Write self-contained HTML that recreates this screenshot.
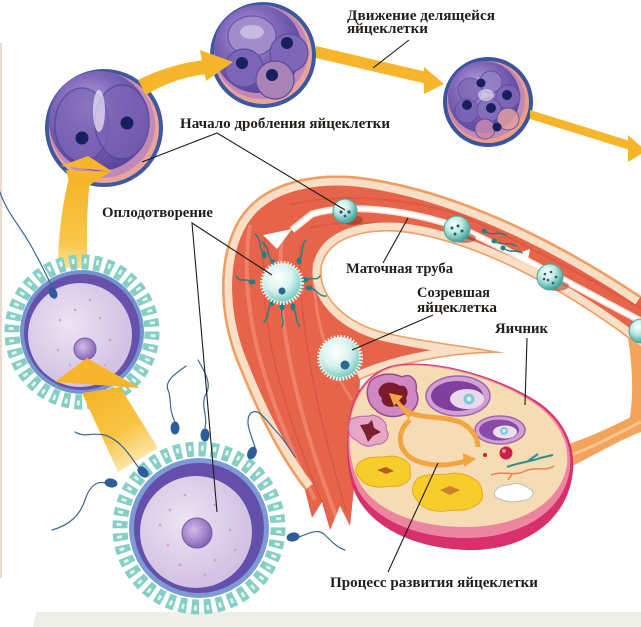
<!DOCTYPE html>
<html><head><meta charset="utf-8">
<style>
html,body{margin:0;padding:0;background:#fff;overflow:hidden}
svg{display:block}
.t{font-family:"Liberation Serif","DejaVu Serif",serif;font-weight:bold;font-size:14.5px;fill:#221e1b}
.l{stroke:#1e1b19;stroke-width:1.1;fill:none}
.tl{stroke:#3a6694;stroke-width:1.2;fill:none;stroke-linecap:round}
.tt{stroke:#1f7f86;stroke-width:1.4;fill:none;stroke-linecap:round}
</style></head><body>
<svg width="641" height="627" viewBox="0 0 641 627" xmlns="http://www.w3.org/2000/svg">
<defs>
<radialGradient id="gP" cx=".4" cy=".35" r=".65">
<stop offset="0" stop-color="#b8a6dc"/><stop offset=".5" stop-color="#7f66b8"/><stop offset="1" stop-color="#5a479c"/></radialGradient>
<radialGradient id="gT" cx=".38" cy=".32" r=".7">
<stop offset="0" stop-color="#ffffff"/><stop offset=".45" stop-color="#bfeae2"/><stop offset="1" stop-color="#3a9e96"/></radialGradient>
<radialGradient id="gT2" cx=".4" cy=".35" r=".7">
<stop offset="0" stop-color="#ffffff"/><stop offset=".5" stop-color="#d9f3ee"/><stop offset="1" stop-color="#62c2b6"/></radialGradient>
<radialGradient id="gE" cx=".4" cy=".4" r=".6">
<stop offset="0" stop-color="#ece3f3"/><stop offset="1" stop-color="#d2c1e3"/></radialGradient>
<radialGradient id="gN" cx=".4" cy=".4" r=".6"><stop offset="0" stop-color="#d2bde6"/><stop offset="1" stop-color="#8a66b8"/></radialGradient>
<linearGradient id="gY1" gradientUnits="userSpaceOnUse" x1="0" y1="170" x2="0" y2="270"><stop offset="0" stop-color="#f5b224"/><stop offset=".7" stop-color="#f8c548"/><stop offset="1" stop-color="#fbe39a"/></linearGradient>
<linearGradient id="gY2" gradientUnits="userSpaceOnUse" x1="95" y1="380" x2="145" y2="470"><stop offset="0" stop-color="#f5b224"/><stop offset=".55" stop-color="#f8c444"/><stop offset="1" stop-color="#fdf1c8"/></linearGradient>
<clipPath id="tc"><path d="M641,296 C580,255 480,198 380,180 C320,168 262,180 238,220 C215,260 218,320 240,370 C258,415 280,458 305,490 L312,518 L322,502 L330,530 L340,506 L350,526 L356,470 L360,380 C400,362 460,352 505,353 C470,346 420,341 380,331 C340,319 318,292 322,266 C328,240 360,229 400,232 C470,240 560,285 641,348 Z"/></clipPath>
</defs>

<rect x="0" y="43" width="2" height="535" fill="#eadbd0"/>
<path d="M36,612 L641,612 L641,627 L33,627 Z" fill="#efefe9"/>

<path d="M628,338 C633,370 634,400 628,428 L641,428 L641,340 Z" fill="#f2a45c"/>
<path d="M556,448 C590,438 615,425 641,412 L641,432 C615,442 590,458 560,472 Z" fill="#f2a45c"/>
<path d="M565,457 C595,447 618,433 641,422" stroke="#f8c48c" stroke-width="3" fill="none"/>

<path d="M641,296 C580,255 480,198 380,180 C320,168 262,180 238,220 C215,260 218,320 240,370 C258,415 280,458 305,490 L312,518 L322,502 L330,530 L340,506 L350,526 L356,470 L360,380 C400,362 460,352 505,353 C470,346 420,341 380,331 C340,319 318,292 322,266 C328,240 360,229 400,232 C470,240 560,285 641,348 Z" fill="#e5644a"/>
<g clip-path="url(#tc)">
 <path d="M641,308 C600,285 520,240 460,215 C410,198 340,192 290,205" stroke="#d24e38" stroke-width="2" fill="none" opacity=".5"/>
 <path d="M641,334 C600,314 520,268 460,242 C410,224 350,217 310,228" stroke="#d24e38" stroke-width="2" fill="none" opacity=".5"/>
 <path d="M250,225 C238,300 258,380 315,500" stroke="#f3957c" stroke-width="4" fill="none" opacity=".6"/>
 <path d="M266,232 C256,300 272,385 326,512" stroke="#cf4a35" stroke-width="1.5" fill="none" opacity=".5"/>
 <path d="M282,238 C275,300 288,390 336,516" stroke="#f3957c" stroke-width="4" fill="none" opacity=".6"/>
 <path d="M300,245 C298,300 308,385 346,510" stroke="#cf4a35" stroke-width="1.5" fill="none" opacity=".5"/>
 <path d="M314,262 C312,310 325,360 352,400" stroke="#f3957c" stroke-width="3" fill="none" opacity=".6"/>
 <path d="M641,296 C580,255 480,198 380,180 C320,168 262,180 238,220 C215,260 218,320 240,370 C258,415 280,458 305,490" stroke="#f9dfc5" stroke-width="20" fill="none"/>
 <path d="M641,296 C580,255 480,198 380,180 C320,168 262,180 238,220 C215,260 218,320 240,370 C258,415 280,458 305,490" stroke="#ee9e62" stroke-width="5" fill="none"/>
 <path d="M360,380 C400,362 460,352 505,353 C470,346 420,341 380,331 C340,319 318,292 322,266 C328,240 360,229 400,232 C470,240 560,285 641,348" stroke="#f9dfc5" stroke-width="18" fill="none"/>
 <path d="M360,380 C400,362 460,352 505,353 C470,346 420,341 380,331 C340,319 318,292 322,266 C328,240 360,229 400,232 C470,240 560,285 641,348" stroke="#ee9e62" stroke-width="3" fill="none"/>
 <path d="M641,321 C600,300 520,255 460,228 C410,210 350,203 312,214 L292,230" stroke="#fbe4d6" stroke-width="7" fill="none"/>
 <path d="M641,321 C600,300 520,255 460,228 C410,210 350,203 312,214 L292,230" stroke="#ffffff" stroke-width="4" fill="none"/>
 <polygon points="263,235 292,229 277,249" fill="#ffffff"/>
 <polygon points="519,253 530,249 528,260" fill="#ffffff"/>
</g>

<path d="M348,428 C350,392 372,366 402,364 C445,360 505,380 538,402 C562,418 578,445 572,478 C565,520 525,552 465,550 C415,548 372,528 356,495 C347,476 346,450 348,428 Z" fill="#d8306b"/>
<path d="M349,428 C351,393 373,367 402,365 C445,361 504,381 536,403 C560,419 575,445 569,474 C562,510 524,538 465,538 C417,538 376,520 359,492 C349,474 347,450 349,428 Z" fill="#ec86a0"/>
<path d="M350,428 C352,394 374,368 402,366 C445,362 503,382 535,404 C558,420 572,445 566,470 C558,502 522,527 465,527 C418,527 380,512 363,488 C352,472 348,450 350,428 Z" fill="#f6dcb4"/>
<path d="M370,382 C378,372 394,373 402,377 C411,372 418,381 416,391 C421,401 415,413 404,414 C394,419 381,416 376,410 C367,404 365,391 370,382 Z" fill="#cf88c2" stroke="#9a4a90" stroke-width="1.5"/>
<path d="M381,386 C387,380 396,383 400,386 C406,384 410,392 406,398 C409,405 401,408 395,406 C388,409 380,404 382,398 C377,394 378,389 381,386 Z" fill="#7a1a2a"/>
<path d="M410,417 L396,400" stroke="#f3a540" stroke-width="4" fill="none"/>
<polygon points="389,393 403,396 394,406" fill="#f3a540"/>
<ellipse cx="458" cy="396" rx="32" ry="20" fill="#d3a0d4" stroke="#a065b0" stroke-width="1.5"/>
<ellipse cx="457" cy="396" rx="26" ry="15" fill="#7e3f9f"/>
<ellipse cx="467" cy="399" rx="17" ry="10" fill="#e9d8ee"/>
<circle cx="469" cy="399" r="5.5" fill="#7fcbdc"/><circle cx="469" cy="399" r="2" fill="#ffffff"/>
<ellipse cx="500" cy="430" rx="25" ry="14" fill="#d3a0d4" stroke="#a065b0" stroke-width="1.5"/>
<ellipse cx="499" cy="430" rx="20" ry="10.5" fill="#8a4aa8"/>
<ellipse cx="505" cy="432" rx="12" ry="6.5" fill="#ecdff0"/>
<circle cx="504" cy="431" r="4" fill="#7fcbdc"/><circle cx="504" cy="431" r="1.5" fill="#fff"/>
<path d="M350,420 C358,414 368,418 372,415 C380,416 388,422 386,430 C392,436 384,446 376,444 C368,449 360,444 356,440 C347,436 348,428 350,420 Z" fill="#e8a6c6" stroke="#c070a8" stroke-width="1.2"/>
<path d="M360,425 L368,424 L372,420 L374,428 L381,432 L373,436 L368,442 L365,434 Z" fill="#7a2030"/>
<path d="M360,462 C368,455 385,458 392,456 C402,457 412,462 410,471 C414,480 402,488 390,486 C378,489 364,486 360,478 C354,473 355,466 360,462 Z" fill="#f7cd2c" stroke="#e8a820" stroke-width="1"/>
<path d="M377,470 L386,467 L394,471 L386,474 Z" fill="#b85a22"/>
<path d="M418,478 C428,472 445,476 455,473 C468,474 482,480 482,492 C486,503 470,512 452,510 C436,514 420,508 417,500 C410,493 412,484 418,478 Z" fill="#f7cd2c" stroke="#e8a820" stroke-width="1"/>
<path d="M440,490 L450,486 L460,490 L450,495 Z" fill="#c0702a" opacity=".8"/>
<path d="M410,420 C395,432 397,455 420,462 C435,467 452,465 466,461" stroke="#f3a540" stroke-width="5" fill="none"/>
<polygon points="463,453 476,459 464,467" fill="#f3a540"/>
<path d="M405,410 C420,420 440,415 460,422 C472,428 478,438 478,447" stroke="#f3a540" stroke-width="5" fill="none"/>
<circle cx="506" cy="453" r="6.5" fill="#c8204a"/><circle cx="504" cy="451" r="2" fill="#f08aa0"/>
<circle cx="485" cy="455" r="2" fill="#c8204a"/>
<path d="M507,467 C520,462 530,462 540,458 L553,455 M528,461 L538,454" stroke="#2a9090" stroke-width="2" fill="none"/>
<path d="M491,475 C503,470 514,477 525,471 C535,466 545,472 554,466 M512,474 L508,480" stroke="#ee8050" stroke-width="1.5" fill="none"/>
<path d="M496,490 C500,484 508,486 512,484 C518,482 526,486 530,489 C536,492 532,500 524,500 C516,503 506,502 500,499 C494,497 493,493 496,490 Z" fill="#ffffff" stroke="#bdbdbd" stroke-width="1"/>

<ellipse cx="352" cy="220" rx="11" ry="5" fill="#8a2a20" opacity=".5"/>
<circle cx="345" cy="211" r="12" fill="url(#gT)" stroke="#4aa8a0" stroke-width="1"/>
<circle cx="341" cy="212" r="1.6" fill="#1f5f70"/><circle cx="349" cy="212" r="1.6" fill="#1f5f70"/><circle cx="345" cy="216" r="1.4" fill="#1f5f70"/>
<ellipse cx="464" cy="238" rx="12" ry="5" fill="#8a2a20" opacity=".5"/>
<circle cx="457" cy="229" r="13" fill="url(#gT)" stroke="#4aa8a0" stroke-width="1"/>
<circle cx="452" cy="228" r="1.5" fill="#1f5f70"/><circle cx="458" cy="226" r="1.5" fill="#1f5f70"/><circle cx="462" cy="231" r="1.5" fill="#1f5f70"/><circle cx="455" cy="234" r="1.5" fill="#1f5f70"/>
<ellipse cx="557" cy="286" rx="12" ry="5" fill="#8a2a20" opacity=".5"/>
<circle cx="550" cy="277" r="13" fill="url(#gT)" stroke="#4aa8a0" stroke-width="1"/>
<circle cx="545" cy="274" r="1.3" fill="#1f5f70"/><circle cx="551" cy="272" r="1.3" fill="#1f5f70"/><circle cx="556" cy="277" r="1.3" fill="#1f5f70"/><circle cx="548" cy="280" r="1.3" fill="#1f5f70"/><circle cx="553" cy="283" r="1.3" fill="#1f5f70"/><circle cx="544" cy="279" r="1.3" fill="#1f5f70"/>
<circle cx="641" cy="331" r="12" fill="url(#gT)" stroke="#4aa8a0" stroke-width="1"/>
<circle cx="484" cy="231" r="2.5" fill="#1f7f86"/><path class="tt" d="M486,232 C492,236 498,231 506,235"/>
<circle cx="494" cy="241" r="2.5" fill="#1f7f86"/><path class="tt" d="M496,242 C502,246 508,241 516,246"/>
<circle cx="503" cy="248" r="2.5" fill="#1f7f86"/><path class="tt" d="M505,249 C510,253 516,249 522,253"/>

<g>
<path class="tt" d="M263,253 C258,246 262,240 255,234"/><ellipse cx="264" cy="255" rx="2.5" ry="3.5" fill="#1f7f86"/>
<path class="tt" d="M272,261 C266,254 270,248 262,242"/><ellipse cx="273" cy="263" rx="2.5" ry="3.5" fill="#1f7f86"/>
<path class="tt" d="M300,259 C304,252 300,246 306,240"/><ellipse cx="299" cy="261" rx="2.5" ry="3.5" fill="#1f7f86"/>
<path class="tt" d="M250,281 C244,278 240,283 236,276"/><ellipse cx="252" cy="282" rx="3.5" ry="2.5" fill="#1f7f86"/>
<path class="tt" d="M306,280 C312,276 316,282 320,276"/><ellipse cx="305" cy="280" rx="3.5" ry="2.5" fill="#1f7f86"/>
<path class="tt" d="M311,288 C318,291 320,297 326,296"/><ellipse cx="309" cy="288" rx="3.5" ry="2.5" fill="#1f7f86"/>
<path class="tt" d="M271,304 C266,310 270,316 264,322"/><ellipse cx="272" cy="302" rx="2.5" ry="3.5" fill="#1f7f86"/>
<path class="tt" d="M282,309 C280,316 285,320 282,327"/><ellipse cx="282" cy="307" rx="2.5" ry="3.5" fill="#1f7f86"/>
<path class="tt" d="M294,309 C298,316 294,320 300,326"/><ellipse cx="293" cy="307" rx="2.5" ry="3.5" fill="#1f7f86"/>
<circle cx="282" cy="283" r="20" fill="url(#gT2)" stroke="#e4f6f2" stroke-width="4" stroke-dasharray="1.6 1.6"/>
<circle cx="282" cy="291" r="3.5" fill="#2a6a90"/>
</g>
<circle cx="340" cy="358" r="21" fill="url(#gT2)" stroke="#e4f6f2" stroke-width="4" stroke-dasharray="1.6 1.6"/>
<circle cx="345" cy="365" r="4.5" fill="#2a6a90"/>

<!-- cell A -->
<circle cx="104" cy="128" r="59" fill="#3e58a4"/>
<circle cx="104" cy="128" r="55" fill="#eaa59a"/>
<circle cx="102" cy="125" r="53" fill="#c08ab8"/>
<circle cx="99" cy="121" r="50" fill="url(#gP)"/>
<ellipse cx="82" cy="125" rx="27" ry="37" fill="#7c64b6" stroke="#55449a" stroke-width="1.5" opacity=".75"/>
<ellipse cx="122" cy="122" rx="27" ry="37" fill="#7a62b4" stroke="#55449a" stroke-width="1.5" opacity=".75"/>
<ellipse cx="99" cy="111" rx="6" ry="21" fill="#efe8f8" opacity=".7"/>
<circle cx="82" cy="138" r="6.5" fill="#17205c"/>
<circle cx="127" cy="123" r="6.5" fill="#17205c"/>

<!-- cell B -->
<circle cx="263" cy="55" r="53" fill="#3d58a3"/>
<circle cx="263" cy="55" r="49" fill="#e9a39c"/>
<circle cx="261" cy="52" r="47" fill="#bf88b8"/>
<circle cx="258" cy="49" r="44" fill="url(#gP)"/>
<ellipse cx="252" cy="36" rx="24" ry="20" fill="#a28ccc" stroke="#6a55a8" stroke-width="1.2"/>
<circle cx="244" cy="68" r="19" fill="#7c64b6" stroke="#5f4c9e" stroke-width="1.2"/>
<circle cx="289" cy="53" r="19" fill="#7f67b8" stroke="#5f4c9e" stroke-width="1.2"/>
<circle cx="275" cy="80" r="19" fill="#a982b6" stroke="#5f4c9e" stroke-width="1.2"/>
<ellipse cx="252" cy="32" rx="12" ry="7" fill="#fff" opacity=".4"/>
<circle cx="287" cy="43" r="6" fill="#17205c"/>
<circle cx="242" cy="63" r="6" fill="#17205c"/>
<circle cx="272" cy="75" r="6" fill="#17205c"/>

<!-- cell C -->
<circle cx="488" cy="102" r="45" fill="#3a54a0"/>
<circle cx="488" cy="102" r="41" fill="#eb9d88"/>
<circle cx="486" cy="100" r="39" fill="#c08ab8"/>
<circle cx="484" cy="97" r="36" fill="url(#gP)"/>
<g stroke="#5f4c9e" stroke-width="1" opacity=".85">
<circle cx="470" cy="90" r="12" fill="#8068b8"/><circle cx="491" cy="82" r="11" fill="#9280c4"/><circle cx="508" cy="97" r="12" fill="#7f66b8"/>
<circle cx="467" cy="111" r="12" fill="#7c64b6"/><circle cx="489" cy="110" r="12" fill="#8670bc"/><circle cx="508" cy="119" r="11" fill="#e0a0a0"/><circle cx="485" cy="129" r="10" fill="#c88ab0"/>
</g>
<ellipse cx="486" cy="95" rx="8" ry="6" fill="#fff" opacity=".5"/>
<circle cx="481" cy="83" r="4.5" fill="#17205c"/><circle cx="507" cy="95" r="5" fill="#17205c"/><circle cx="467" cy="105" r="5" fill="#17205c"/><circle cx="491" cy="108" r="5" fill="#17205c"/><circle cx="497" cy="127" r="4.5" fill="#17205c"/>

<!-- top arrows -->
<path d="M138,80 Q170,64 204,60 L207,74 Q173,78 146,95 Z" fill="#f6b52a"/>
<polygon points="200,50 233,62 206,81" fill="#f6b52a"/>
<polygon points="316,46 427,72 427,84 316,58" fill="#f6b52a"/>
<polygon points="424,67 444,84 424,94" fill="#f6b52a"/>
<polygon points="530,110 630,141 630,150 530,119" fill="#f6b52a"/>
<polygon points="628,135 646,151 628,162" fill="#f6b52a"/>

<!-- vertical arrow -->
<path d="M58,268 C58,240 62,205 69,178 L90,180 C87,205 86,240 88,268 Z" fill="url(#gY1)"/>
<polygon points="61,166 88,156 113,172" fill="#f6b52a"/>
<polygon points="66,170 110,172 90,185 70,185" fill="#f6b52a"/>

<!-- middle egg -->
<circle cx="82" cy="332" r="70" fill="none" stroke="#86cfc4" stroke-width="15" pathLength="414" stroke-dasharray="7 4.5"/>
<circle cx="82" cy="332" r="71" fill="none" stroke="#e6f7f3" stroke-width="5" pathLength="414" stroke-dasharray="2.6 8.9" stroke-dashoffset="-2.2"/>
<circle cx="82" cy="332" r="62" fill="#7494d0"/>
<circle cx="82" cy="332" r="58" fill="#6652ab"/>
<circle cx="80" cy="335" r="52" fill="url(#gE)"/>
<circle cx="85" cy="349" r="11" fill="url(#gN)" stroke="#7a58a8" stroke-width="1"/>
<g fill="#d9a0c4"><circle cx="60" cy="320" r="1.3"/><circle cx="75" cy="310" r="1.3"/><circle cx="100" cy="318" r="1.3"/><circle cx="110" cy="340" r="1.3"/><circle cx="58" cy="350" r="1.3"/><circle cx="70" cy="365" r="1.3"/><circle cx="105" cy="365" r="1.3"/><circle cx="90" cy="300" r="1.3"/></g>

<!-- bottom big arrow -->
<polygon points="82,393 120,387 158,448 118,472" fill="url(#gY2)"/>
<polygon points="55,382 87,358 140,388" fill="#f6b52a"/>

<!-- lower egg -->
<circle cx="199" cy="528" r="79" fill="none" stroke="#86cfc4" stroke-width="15" pathLength="460" stroke-dasharray="7 4.5"/>
<circle cx="199" cy="528" r="80" fill="none" stroke="#e6f7f3" stroke-width="5" pathLength="460" stroke-dasharray="2.6 8.9" stroke-dashoffset="-2.2"/>
<circle cx="199" cy="528" r="70" fill="#7c9ad4"/>
<circle cx="199" cy="528" r="65" fill="#6450aa"/>
<circle cx="196" cy="532" r="56" fill="url(#gE)"/>
<circle cx="197" cy="533" r="15" fill="url(#gN)" stroke="#7a58a8" stroke-width="1"/>
<g fill="#d9a0c4"><circle cx="170" cy="510" r="1.4"/><circle cx="185" cy="495" r="1.4"/><circle cx="215" cy="505" r="1.4"/><circle cx="230" cy="530" r="1.4"/><circle cx="168" cy="545" r="1.4"/><circle cx="180" cy="565" r="1.4"/><circle cx="215" cy="560" r="1.4"/><circle cx="205" cy="575" r="1.4"/><circle cx="160" cy="525" r="1.4"/><circle cx="235" cy="550" r="1.4"/></g>

<!-- sperms -->
<path class="tl" d="M52,287 C45,272 38,258 30,244 C22,230 12,218 6,206 C3,200 1,196 0,192"/>
<ellipse rx="4" ry="6" fill="#2c5d9a" transform="translate(53,293) rotate(-25)"/>
<path class="tl" d="M175,422 C168,408 172,398 168,390 C164,380 178,372 186,366"/>
<ellipse rx="4.5" ry="6.5" fill="#2c5d9a" transform="translate(175,428)"/>
<path class="tl" d="M205,428 C208,415 200,405 206,394 C212,384 205,372 198,360"/>
<ellipse rx="4.5" ry="6.5" fill="#2c5d9a" transform="translate(205,435)"/>
<path class="tl" d="M255,447 C250,432 245,422 250,414 C258,406 266,420 275,430 C285,440 290,450 295,457"/>
<ellipse rx="4.5" ry="6.5" fill="#2c5d9a" transform="translate(252,453) rotate(25)"/>
<path class="tl" d="M138,467 C130,455 120,440 105,435 C90,432 85,438 75,432"/>
<ellipse rx="4.5" ry="6.5" fill="#2c5d9a" transform="translate(143,472) rotate(-45)"/>
<path class="tl" d="M105,483 C95,480 88,490 85,500 C80,515 70,525 52,530"/>
<ellipse rx="4.5" ry="6.5" fill="#2c5d9a" transform="translate(111,483) rotate(-80)"/>
<path class="tl" d="M299,537 C310,533 318,528 325,535 C332,542 338,548 345,550"/>
<ellipse rx="4.5" ry="6.5" fill="#2c5d9a" transform="translate(293,537) rotate(80)"/>

<!-- label lines -->
<path class="l" d="M373,68 L409,40"/>
<path class="l" d="M142,162 L217,133 L345,210"/>
<path class="l" d="M272,275 L192,223 L217,512"/>
<path class="l" d="M383,263 L408,218"/>
<path class="l" d="M433,315 L352,350"/>
<path class="l" d="M527,338 L525,405"/>
<path class="l" d="M388,572 L438,463"/>

<!-- labels -->
<text class="t" x="347" y="20" textLength="148" lengthAdjust="spacingAndGlyphs">Движение делящейся</text>
<text class="t" x="347" y="33" textLength="81" lengthAdjust="spacingAndGlyphs">яйцеклетки</text>
<text class="t" x="180" y="128" textLength="210" lengthAdjust="spacingAndGlyphs">Начало дробления яйцеклетки</text>
<text class="t" x="102" y="217" textLength="111" lengthAdjust="spacingAndGlyphs">Оплодотворение</text>
<text class="t" x="346" y="273" textLength="107" lengthAdjust="spacingAndGlyphs">Маточная труба</text>
<text class="t" x="417" y="297" textLength="73" lengthAdjust="spacingAndGlyphs">Созревшая</text>
<text class="t" x="417" y="312" textLength="80" lengthAdjust="spacingAndGlyphs">яйцеклетка</text>
<text class="t" x="495" y="333" textLength="53" lengthAdjust="spacingAndGlyphs">Яичник</text>
<text class="t" x="330" y="587" textLength="208" lengthAdjust="spacingAndGlyphs">Процесс развития яйцеклетки</text>
</svg>
</body></html>
